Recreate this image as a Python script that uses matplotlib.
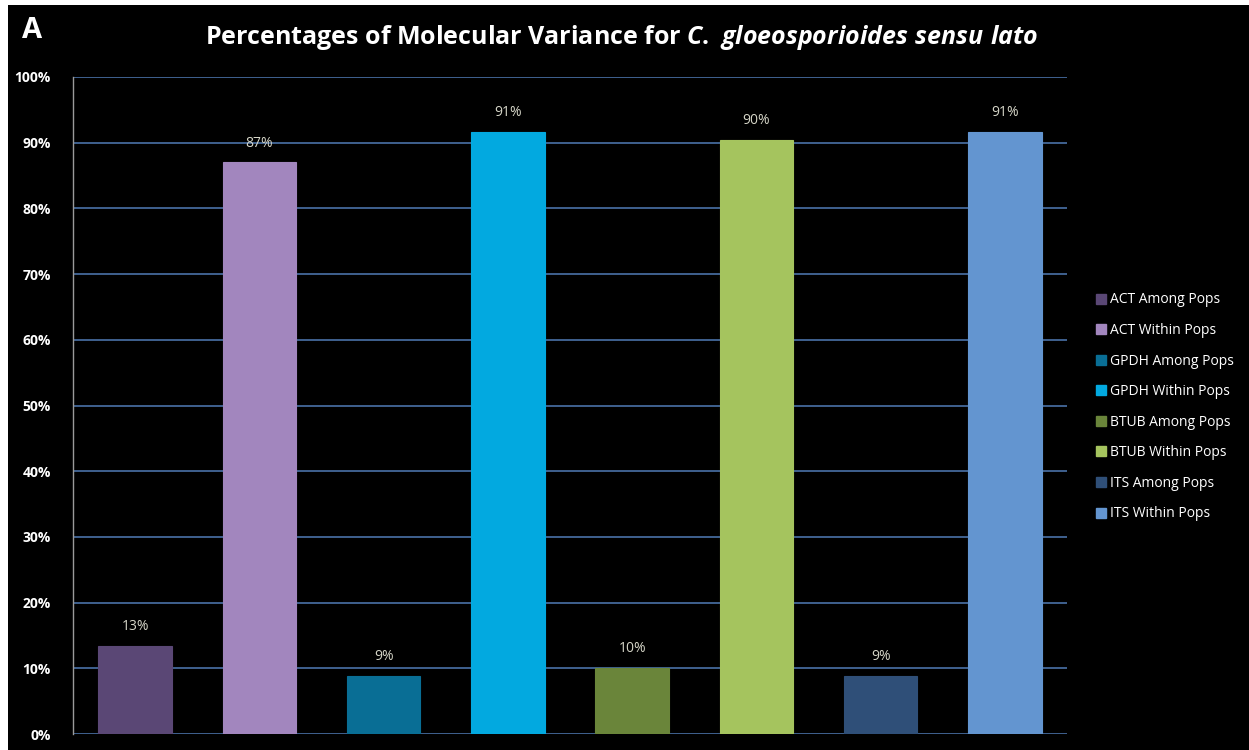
import numpy as np
import matplotlib.pyplot as plt
from matplotlib.patches import Rectangle
from matplotlib.lines import Line2D

# Data
series = ['ACT Among Pops', 'ACT Within Pops', 'GPDH Among Pops', 'GPDH Within Pops',
          'BTUB Among Pops', 'BTUB Within Pops', 'ITS Among Pops', 'ITS Within Pops']
values = [13.4, 87.0, 8.8, 91.6, 10.0, 90.4, 8.8, 91.6]
labels = ['13%', '87%', '9%', '91%', '10%', '90%', '9%', '91%']
colors = ['#5a4775', '#a286be', '#096e95', '#02a9e0',
          '#6a853a', '#a5c45e', '#2f4f78', '#6395d0']

plt.rcParams['mathtext.fontset'] = 'custom'
plt.rcParams['mathtext.it'] = 'Open Sans:italic:bold'
plt.rcParams['mathtext.rm'] = 'Open Sans:bold'

W, H = 1249, 750
fig = plt.figure(figsize=(W / 100, H / 100), dpi=100)
fig.patch.set_facecolor('white')
# black background panel with thin white border at top/left
fig.add_artist(Rectangle((8 / W, 0), 1 - 8 / W, (H - 5) / H, transform=fig.transFigure,
                         facecolor='black', edgecolor='none', zorder=0))

ax = fig.add_axes([73 / W, (H - 734) / H, (1067 - 73) / W, (734 - 77) / H])
ax.set_facecolor('black')

x = np.arange(len(values))
ax.bar(x, values, width=0.59, color=colors, edgecolor=colors,
       linewidth=0.8, zorder=3)
for xi, v, lab in zip(x, values, labels):
    ax.text(xi, v + 1.8, lab, ha='center', va='bottom', color='#d6d6c8',
            fontsize=10, family='Open Sans', zorder=4)

ax.set_xlim(-0.5, len(values) - 0.5)
ax.set_ylim(0, 100)
ax.set_yticks(np.arange(0, 101, 10))
ax.set_yticklabels([f'{t}%' for t in range(0, 101, 10)], color='white',
                   fontsize=10, fontweight='bold', family='Open Sans')
ax.set_xticks([])
ax.tick_params(axis='y', length=0, pad=16)
ax.grid(axis='y', color='#4a72a8', linewidth=1.2, zorder=1)
for s in ['top', 'right', 'bottom']:
    ax.spines[s].set_visible(False)
ax.spines['left'].set_color('#9a9a9a')
ax.spines['left'].set_linewidth(1)

fig.text(622 / W, 1 - 38 / H,
         r'Percentages of Molecular Variance for $\mathit{C.\ gloeosporioides\ sensu\ lato}$',
         ha='center', va='center', color='white', fontsize=18, fontweight='bold',
         family='Open Sans')
fig.text(22 / W, 1 - 30 / H, 'A', ha='left', va='center', color='white',
         fontsize=21, fontweight='bold', family='Open Sans')

handles = [Line2D([], [], marker='s', linestyle='none', markersize=6.5,
                  markerfacecolor=c, markeredgecolor=c) for c in colors]
leg = fig.legend(handles, series, loc='upper left', bbox_to_anchor=(1082 / W, 1 - 280 / H),
                 frameon=False, labelspacing=1.12, handletextpad=0.1,
                 handlelength=1.0, prop={'family': 'Open Sans', 'size': 10})
for t in leg.get_texts():
    t.set_color('white')

fig.savefig('out.png', dpi=100, facecolor=fig.get_facecolor())
